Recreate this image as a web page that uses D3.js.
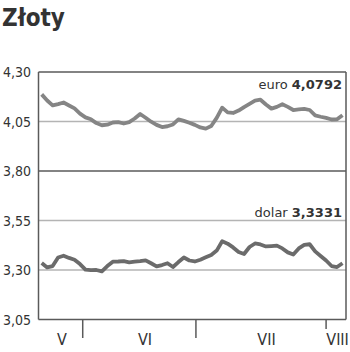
<!DOCTYPE html>
<html>
<head>
<meta charset="utf-8">
<script src="https://cdn.jsdelivr.net/npm/d3@7"></script>
<style>
  body { margin: 0; background: #fff; }
  svg { display: block; }
</style>
</head>
<body>
<div id="chart"></div>
<script>
// kurs euro i dolara, notowania dzienne
const euro = [
  4.187, 4.156, 4.131, 4.138, 4.146, 4.131, 4.116, 4.090, 4.071, 4.061,
  4.042, 4.031, 4.034, 4.045, 4.047, 4.040, 4.047, 4.065, 4.088, 4.069,
  4.049, 4.033, 4.022, 4.026, 4.035, 4.061, 4.053, 4.044, 4.033, 4.020,
  4.014, 4.027, 4.068, 4.120, 4.096, 4.093, 4.105, 4.123, 4.139, 4.155,
  4.160, 4.136, 4.115, 4.124, 4.137, 4.124, 4.108, 4.111, 4.114, 4.108,
  4.081, 4.074, 4.068, 4.060, 4.061, 4.082
];
const dolar = [
  3.335, 3.313, 3.320, 3.363, 3.372, 3.361, 3.352, 3.330, 3.302, 3.299,
  3.300, 3.293, 3.320, 3.342, 3.343, 3.345, 3.339, 3.342, 3.345, 3.349,
  3.334, 3.318, 3.325, 3.334, 3.315, 3.340, 3.363, 3.348, 3.343, 3.352,
  3.364, 3.376, 3.398, 3.445, 3.433, 3.414, 3.391, 3.381, 3.416, 3.434,
  3.429, 3.419, 3.421, 3.423, 3.409, 3.389, 3.378, 3.409, 3.427, 3.430,
  3.394, 3.371, 3.348, 3.320, 3.315, 3.334
];
const yTicks = [4.30, 4.05, 3.80, 3.55, 3.30, 3.05];
const darkTicks = [4.30, 3.80, 3.05];
const monthBreaks = [7.5, 28.2, 52];
const monthLabels = ['V', 'VI', 'VII', 'VIII'];
const monthLabelPos = [3.7, 18.9, 41.1, 54.1];
const lastEuro = '4,0792';
const lastDolar = '3,3331';

const width = 350, height = 352;
const plot = { left: 38.5, right: 346, top: 72, bottom: 319.5 };
const font = "'DejaVu Sans Condensed', 'DejaVu Sans', sans-serif";

const svg = d3.select('#chart').append('svg')
  .attr('width', width)
  .attr('height', height);

svg.append('text')
  .attr('x', 2)
  .attr('y', 26)
  .attr('font-family', font)
  .attr('font-weight', 'bold')
  .attr('font-size', 24)
  .attr('fill', '#333')
  .text('Złoty');

const x = d3.scaleLinear()
  .domain([0, euro.length - 1])
  .range([41.7, 342.5]);

const y = d3.scaleLinear()
  .domain([3.05, 4.30])
  .range([plot.bottom, plot.top]);

const fmt = v => d3.format('.2f')(v).replace('.', ',');

// linie siatki
svg.append('g')
  .selectAll('line')
  .data(yTicks)
  .join('line')
  .attr('x1', plot.left)
  .attr('x2', plot.right)
  .attr('y1', d => y(d))
  .attr('y2', d => y(d))
  .attr('stroke', d => darkTicks.includes(d) ? '#5a5a5a' : '#b4b4b4')
  .attr('stroke-width', 1.5);

// podpisy osi Y
svg.append('g')
  .selectAll('text')
  .data(yTicks)
  .join('text')
  .attr('x', 3)
  .attr('y', d => y(d) + 5)
  .attr('font-family', font)
  .attr('font-size', 14)
  .attr('fill', '#333')
  .text(fmt);

// ramka: lewa i prawa krawędź
svg.append('line')
  .attr('x1', plot.left).attr('x2', plot.left)
  .attr('y1', plot.top).attr('y2', plot.bottom)
  .attr('stroke', '#5a5a5a').attr('stroke-width', 1.5);
svg.append('line')
  .attr('x1', plot.right).attr('x2', plot.right)
  .attr('y1', plot.top).attr('y2', plot.bottom)
  .attr('stroke', '#5a5a5a').attr('stroke-width', 1.5);

// znaczniki miesięcy
svg.append('g')
  .selectAll('line')
  .data(monthBreaks)
  .join('line')
  .attr('x1', d => x(d))
  .attr('x2', d => x(d))
  .attr('y1', plot.bottom)
  .attr('y2', (d, i) => i === monthBreaks.length - 1 ? 329 : 338)
  .attr('stroke', '#5a5a5a')
  .attr('stroke-width', 1.5);

svg.append('g')
  .selectAll('text')
  .data(monthLabels)
  .join('text')
  .attr('x', (d, i) => x(monthLabelPos[i]))
  .attr('y', 345)
  .attr('text-anchor', 'middle')
  .attr('font-family', font)
  .attr('font-size', 16)
  .attr('fill', '#333')
  .text(d => d);

const line = d3.line()
  .x((d, i) => x(i))
  .y(d => y(d));

svg.append('path')
  .datum(euro)
  .attr('d', line)
  .attr('fill', 'none')
  .attr('stroke', '#858585')
  .attr('stroke-width', 3.8)
  .attr('stroke-linejoin', 'round');

svg.append('path')
  .datum(dolar)
  .attr('d', line)
  .attr('fill', 'none')
  .attr('stroke', '#6b6b6b')
  .attr('stroke-width', 3.8)
  .attr('stroke-linejoin', 'round');

function addLabel(yPos, name, value) {
  const t = svg.append('text')
    .attr('x', 342)
    .attr('y', yPos)
    .attr('text-anchor', 'end')
    .attr('font-family', "'DejaVu Sans', sans-serif")
    .attr('font-size', 13)
    .attr('fill', '#333');
  t.append('tspan').text(name + ' ');
  t.append('tspan').attr('font-weight', 'bold').text(value);
}

addLabel(89, 'euro', lastEuro);
addLabel(217, 'dolar', lastDolar);
</script>
</body>
</html>
